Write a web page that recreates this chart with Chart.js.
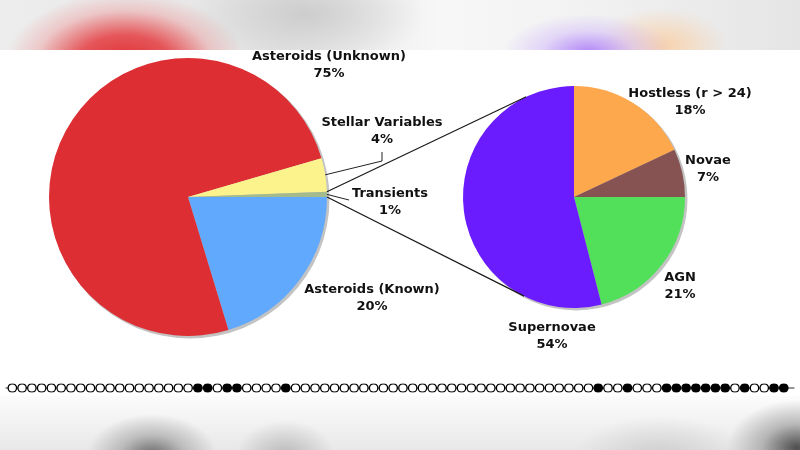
<!DOCTYPE html>
<html>
<head>
<meta charset="utf-8">
<script src="https://cdn.jsdelivr.net/npm/chart.js@4.4.0/dist/chart.umd.min.js"></script>
<style>
  html, body { margin: 0; padding: 0; background: #fff; }
  #stage { position: relative; width: 800px; height: 450px; overflow: hidden; background: #fff; }
  #topBand {
    position: absolute; left: 0; top: 0; width: 800px; height: 50px;
    background:
      radial-gradient(ellipse 120px 72px at 125px 64px, rgba(222,44,48,1) 0%, rgba(228,66,70,0.88) 40%, rgba(238,130,132,0.35) 74%, rgba(240,240,240,0) 100%),
      radial-gradient(ellipse 85px 38px at 588px 52px, rgba(172,125,248,0.9) 0%, rgba(205,178,252,0.45) 55%, rgba(255,255,255,0) 100%),
      radial-gradient(ellipse 65px 38px at 662px 46px, rgba(250,205,160,0.85) 0%, rgba(255,232,205,0) 100%),
      radial-gradient(ellipse 120px 55px at 305px 14px, rgba(205,205,205,1) 0%, rgba(222,222,222,0) 100%),
      linear-gradient(to right, #ededed 0%, #e6e6e6 35%, #f7f7f7 55%, #f3f3f3 70%, #e5e5e5 100%);
  }
  #bottomBand {
    position: absolute; left: 0; top: 396px; width: 800px; height: 54px;
    background:
      radial-gradient(ellipse 65px 42px at 152px 60px, rgba(80,80,80,0.85) 0%, rgba(130,130,130,0.45) 50%, rgba(200,200,200,0) 100%),
      radial-gradient(ellipse 50px 38px at 285px 62px, rgba(150,150,150,0.6) 0%, rgba(200,200,200,0) 100%),
      radial-gradient(ellipse 85px 40px at 660px 60px, rgba(180,180,180,0.5) 0%, rgba(210,210,210,0) 100%),
      radial-gradient(ellipse 70px 48px at 797px 52px, rgba(60,60,60,0.9) 0%, rgba(115,115,115,0.45) 50%, rgba(200,200,200,0) 100%),
      linear-gradient(to bottom, #fcfcfc 0%, #f0f0f0 60%, #e8e8e8 100%);
  }
  canvas { position: absolute; left: 0; }
</style>
</head>
<body>
<div id="stage">
  <div id="topBand"></div>
  <div id="bottomBand"></div>
  <canvas id="leftPie" width="800" height="450" style="top:0"></canvas>
  <canvas id="rightPie" width="800" height="450" style="top:0"></canvas>
  <canvas id="beads" width="800" height="20" style="top:378px"></canvas>
</div>
<script>
// main pie
const leftLabels = ['Asteroids (Known)', 'Asteroids (Unknown)', 'Stellar Variables', 'Transients'];
const leftShares = [20.3, 75.2, 3.9, 0.6];
const leftPct = ['20%', '75%', '4%', '1%'];

// breakdown of transients
const rightLabels = ['Hostless (r > 24)', 'Novae', 'AGN', 'Supernovae'];
const rightShares = [18, 7, 21, 54];
const rightPct = ['18%', '7%', '21%', '54%'];

// strip of markers along the bottom (1 = filled)
const beadStates = [
    0, 0, 0, 0, 0, 0, 0, 0, 0, 0,
    0, 0, 0, 0, 0, 0, 0, 0, 0, 1,
    1, 0, 1, 1, 0, 0, 0, 0, 1, 0,
    0, 0, 0, 0, 0, 0, 0, 0, 0, 0,
    0, 0, 0, 0, 0, 0, 0, 0, 0, 0,
    0, 0, 0, 0, 0, 0, 0, 0, 0, 0,
    1, 0, 0, 1, 0, 0, 0, 1, 1, 1,
    1, 1, 1, 1, 0, 1, 0, 0, 1, 1
];

var leftColors = ['#61a9fd', '#dc2e33', '#fdf38d', '#a3bb8c'];
var rightColors = ['#fda84c', '#865352', '#52e05b', '#6a1cfe'];

// label block centres, offset from pie centre in px
var leftSpots = [[184, 101], [141, -132], [194, -66], [202, 5]];
var rightSpots = [[116, -95], [134, -28], [106, 89], [-22, 139]];

var labelFont = 'bold 13px "DejaVu Sans", Verdana, sans-serif';
var lineGap = 17;

function pieCentre(chart) {
    let arc = chart.getDatasetMeta(0).data[0];
    return { x: arc.x, y: arc.y, r: arc.outerRadius };
}

function drawLabels(chart, names, pcts, spots) {
    let c = pieCentre(chart);
    let ctx = chart.ctx;
    ctx.save();
    ctx.font = labelFont;
    ctx.fillStyle = '#111';
    ctx.textAlign = 'center';
    ctx.textBaseline = 'middle';
    for (let i = 0; i < names.length; i++) {
        let lx = c.x + spots[i][0];
        let ly = c.y + spots[i][1];
        ctx.fillText(names[i], lx, ly - lineGap / 2);
        ctx.fillText(pcts[i], lx, ly + lineGap / 2);
    }
    ctx.restore();
}

var shadowPlugin = {
    id: 'shadow',
    beforeDatasetsDraw: function (chart) {
        let c = pieCentre(chart);
        let ctx = chart.ctx;
        ctx.save();
        ctx.fillStyle = '#c3c3c3';
        ctx.beginPath();
        ctx.arc(c.x + 2, c.y + 2, c.r + 0.5, 0, Math.PI * 2);
        ctx.fill();
        ctx.restore();
    }
};

var leftLabelPlugin = {
    id: 'leftLabels',
    afterDraw: function (chart) {
        let c = pieCentre(chart);
        let arcs = chart.getDatasetMeta(0).data;
        let ctx = chart.ctx;
        ctx.save();
        ctx.strokeStyle = '#222';
        ctx.lineWidth = 1;

        // stellar variables: elbow leader
        let a = (arcs[2].startAngle + arcs[2].endAngle) / 2;
        let lx = c.x + leftSpots[2][0];
        let ly = c.y + leftSpots[2][1];
        ctx.beginPath();
        ctx.moveTo(c.x + c.r * Math.cos(a), c.y + c.r * Math.sin(a));
        ctx.lineTo(lx, ly + 30);
        ctx.lineTo(lx, ly + 21);
        ctx.stroke();

        // transients: short leader
        a = (arcs[3].startAngle + arcs[3].endAngle) / 2;
        lx = c.x + leftSpots[3][0];
        ly = c.y + leftSpots[3][1];
        ctx.beginPath();
        ctx.moveTo(c.x + c.r * Math.cos(a), c.y + c.r * Math.sin(a));
        ctx.lineTo(lx - 41, ly - 2);
        ctx.stroke();
        ctx.restore();

        drawLabels(chart, leftLabels, leftPct, leftSpots);
    }
};

var leftChart = new Chart(document.getElementById('leftPie').getContext('2d'), {
    type: 'pie',
    data: {
        labels: leftLabels,
        datasets: [{
            data: leftShares,
            backgroundColor: leftColors,
            borderWidth: 0,
            hoverOffset: 0,
            offset: 0
        }]
    },
    options: {
        responsive: false,
        animation: false,
        events: [],
        rotation: 90,
        layout: { padding: { left: 49, top: 58, right: 473, bottom: 114 } },
        plugins: {
            legend: { display: false },
            tooltip: { enabled: false }
        }
    },
    plugins: [shadowPlugin, leftLabelPlugin]
});

var connectorPlugin = {
    id: 'connectors',
    afterDraw: function (chart) {
        let c = pieCentre(chart);
        let l = pieCentre(leftChart);
        let tArc = leftChart.getDatasetMeta(0).data[3];
        let starts = [tArc.startAngle, tArc.endAngle];
        let ctx = chart.ctx;
        ctx.save();
        ctx.strokeStyle = '#1a1a1a';
        ctx.lineWidth = 1.2;
        for (let k = 0; k < 2; k++) {
            let px = l.x + l.r * Math.cos(starts[k]);
            let py = l.y + l.r * Math.sin(starts[k]);
            let d = Math.hypot(px - c.x, py - c.y);
            let theta = Math.atan2(py - c.y, px - c.x);
            let alpha = Math.acos(c.r / d);
            let t = k === 0 ? theta + alpha : theta - alpha;
            ctx.beginPath();
            ctx.moveTo(px, py);
            ctx.lineTo(c.x + c.r * Math.cos(t), c.y + c.r * Math.sin(t));
            ctx.stroke();
        }
        ctx.restore();
        drawLabels(chart, rightLabels, rightPct, rightSpots);
    }
};

var rightChart = new Chart(document.getElementById('rightPie').getContext('2d'), {
    type: 'pie',
    data: {
        labels: rightLabels,
        datasets: [{
            data: rightShares,
            backgroundColor: rightColors,
            borderWidth: 0,
            hoverOffset: 0,
            offset: 0
        }]
    },
    options: {
        responsive: false,
        animation: false,
        events: [],
        rotation: 0,
        layout: { padding: { left: 463, top: 86, right: 115, bottom: 142 } },
        plugins: {
            legend: { display: false },
            tooltip: { enabled: false }
        }
    },
    plugins: [shadowPlugin, connectorPlugin]
});

// thin rail that runs behind the beads, out to the edges
var railPlugin = {
    id: 'rail',
    beforeDatasetsDraw: function (chart) {
        let ctx = chart.ctx;
        let y = chart.scales.y.getPixelForValue(0);
        ctx.save();
        ctx.strokeStyle = '#333';
        ctx.lineWidth = 1;
        ctx.beginPath();
        ctx.moveTo(chart.chartArea.left, y);
        ctx.lineTo(chart.chartArea.right, y);
        ctx.stroke();
        ctx.restore();
    }
};

var beadChart = new Chart(document.getElementById('beads').getContext('2d'), {
    type: 'scatter',
    data: {
        datasets: [{
            data: beadStates.map(function (s, i) { return { x: i, y: 0 }; }),
            showLine: false,
            pointRadius: 4.2,
            pointBorderWidth: 1.3,
            pointBorderColor: '#000',
            pointBackgroundColor: beadStates.map(function (s) { return s ? '#000' : '#fff'; })
        }]
    },
    options: {
        responsive: false,
        animation: false,
        events: [],
        layout: { padding: 0 },
        scales: {
            x: { display: false, min: -0.7, max: 80.1 },
            y: { display: false, min: -1, max: 1 }
        },
        plugins: {
            legend: { display: false },
            tooltip: { enabled: false }
        }
    },
    plugins: [railPlugin]
});
</script>
</body>
</html>
